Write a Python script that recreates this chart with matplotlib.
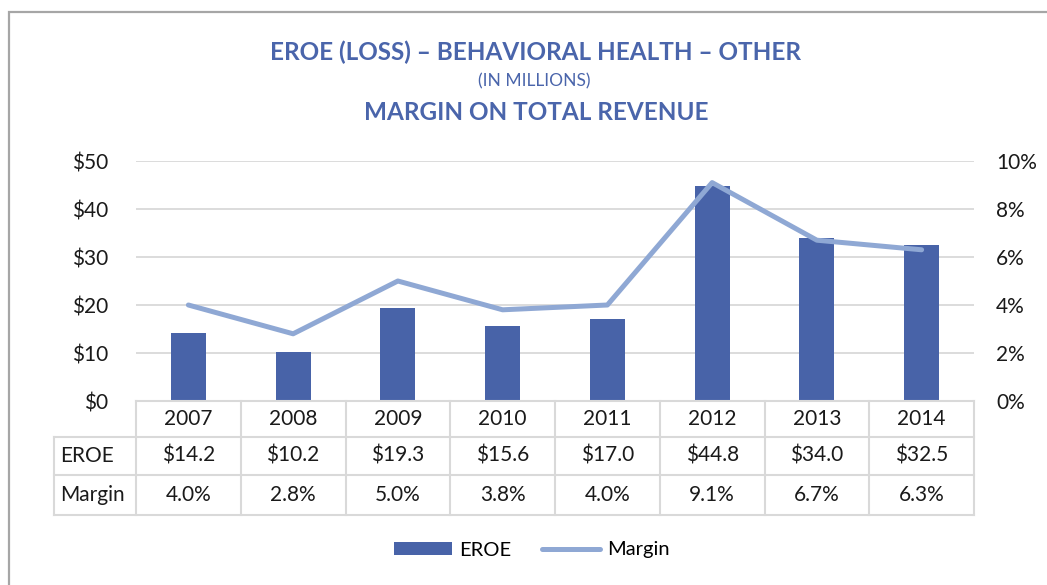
import matplotlib

matplotlib.use("Agg")
import matplotlib.pyplot as plt
import numpy as np
from matplotlib.lines import Line2D
from matplotlib.patches import Patch, Rectangle
from matplotlib.transforms import blended_transform_factory

years = ["2007", "2008", "2009", "2010", "2011", "2012", "2013", "2014"]
eroe = [14.2, 10.2, 19.3, 15.6, 17.0, 44.8, 34.0, 32.5]
margin = [4.0, 2.8, 5.0, 3.8, 4.0, 9.1, 6.7, 6.3]
left_ticks = [0, 10, 20, 30, 40, 50]
right_ticks = [0, 2, 4, 6, 8, 10]

BAR = "#4863A8"
LINE = "#8FA8D4"
TITLE = "#4A65AB"
GRID = "#D9D9D9"
TXT = "#1A1A1A"
FS = 15

W, H = 1047, 585
plt.rcParams["font.family"] = ["Lato", "DejaVu Sans"]

fig = plt.figure(figsize=(W / 100, H / 100), dpi=100)


def px(x, y):
    return x / W, 1 - y / H


# chart frame (runs off the right and bottom edges)
fig.patches.append(Rectangle(px(9, 600), 1.1, (600 - 12) / H, transform=fig.transFigure,
                             fill=False, edgecolor="#A6A6A6", linewidth=1.6))

x0, y0 = px(136, 401)
x1, y1 = px(974, 161)
ax = fig.add_axes([x0, y0, x1 - x0, y1 - y0])
ax2 = ax.twinx()

x = np.arange(len(years))
ax.bar(x, eroe, width=0.335, color=BAR, zorder=2)
ax2.plot(x, margin, color=LINE, linewidth=3.6, solid_capstyle="round", zorder=3)

ax.set_xlim(-0.5, len(years) - 0.5)
ax.set_ylim(0, 50)
ax2.set_ylim(0, 10)
ax.set_yticks(left_ticks)
ax.set_yticklabels([f"${v}" for v in left_ticks])
ax2.set_yticks(right_ticks)
ax2.set_yticklabels([f"{v}%" for v in right_ticks])
ax.set_xticks([])
for a in (ax, ax2):
    for s in a.spines.values():
        s.set_visible(False)
    a.tick_params(axis="y", length=0, labelsize=FS, labelcolor=TXT)
ax.tick_params(axis="y", pad=20)
ax2.tick_params(axis="y", pad=16)
ax.grid(axis="y", color=GRID, linewidth=1.3, zorder=0)
ax.set_axisbelow(True)

# data table under the axis
tr = blended_transform_factory(ax.transData, ax.transAxes)
ph = 240.0
row_edges = [0, -36 / ph, -74 / ph, -114 / ph]
label_x = (54 - 136) / 838
lk = dict(color=GRID, linewidth=1.5, clip_on=False, transform=ax.transAxes)
for i, ye in enumerate(row_edges):
    xs = 0 if i == 0 else label_x
    ax.add_line(Line2D([xs, 1], [ye, ye], **lk))
for k in range(len(years) + 1):
    ax.add_line(Line2D([k - 0.5, k - 0.5], [0, row_edges[-1]], color=GRID, linewidth=1.5,
                       clip_on=False, transform=tr))
ax.add_line(Line2D([label_x, label_x], [row_edges[1], row_edges[-1]], **lk))

rows = [years, [f"${v:.1f}" for v in eroe], [f"{v:.1f}%" for v in margin]]
for r, vals in enumerate(rows):
    yc = (row_edges[r] + row_edges[r + 1]) / 2
    for k, v in enumerate(vals):
        ax.text(k, yc, v, transform=tr, ha="center", va="center", fontsize=FS, color=TXT)
ax.text(label_x + 0.007, (row_edges[1] + row_edges[2]) / 2, "EROE", transform=ax.transAxes,
        ha="left", va="center", fontsize=FS, color=TXT)
ax.text(label_x + 0.007, (row_edges[2] + row_edges[3]) / 2, "Margin", transform=ax.transAxes,
        ha="left", va="center", fontsize=FS, color=TXT)

# titles
fig.text(*px(536, 52), "EROE (LOSS) – BEHAVIORAL HEALTH – OTHER", ha="center", va="center",
         fontsize=17.5, fontweight="bold", color=TITLE)
fig.text(*px(534, 81), "(IN MILLIONS)", ha="center", va="center", fontsize=12.5, color=TITLE)
fig.text(*px(536, 113), "MARGIN ON TOTAL REVENUE", ha="center", va="center",
         fontsize=17.5, fontweight="bold", color=TITLE)

handles = [Patch(facecolor=BAR, edgecolor="none"),
           Line2D([], [], color=LINE, linewidth=3.6, solid_capstyle="round")]
fig.legend(handles, ["EROE", "Margin"], loc="center", bbox_to_anchor=px(532, 550),
           ncol=2, frameon=False, fontsize=14.5, handlelength=2.9, handleheight=0.65,
           handletextpad=0.35, columnspacing=1.5)

fig.savefig("out.png", dpi=100)
